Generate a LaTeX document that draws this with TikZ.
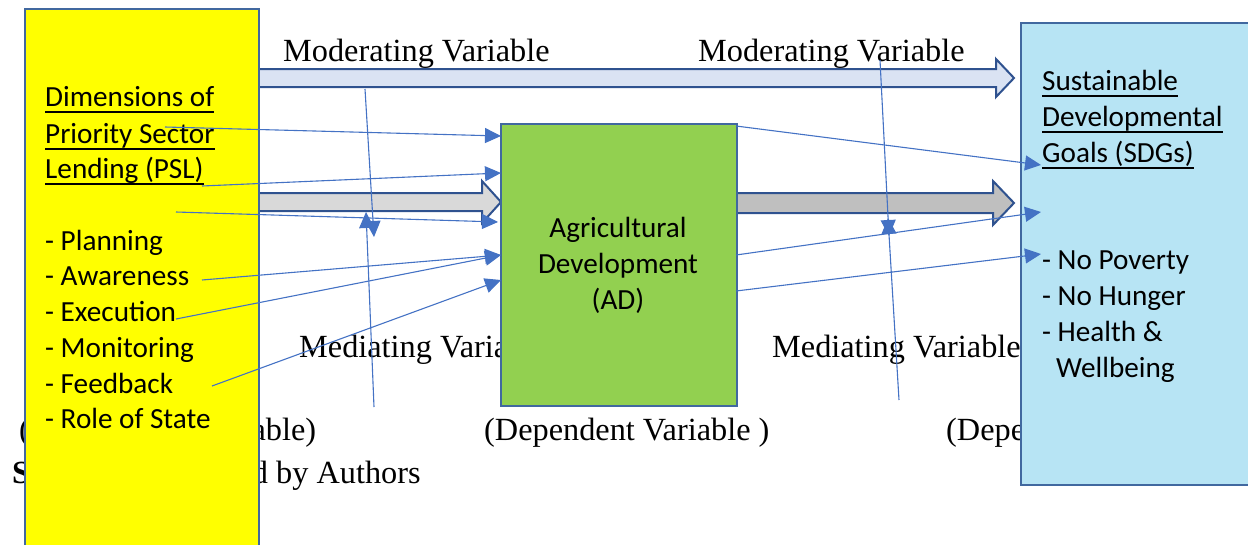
\documentclass[tikz,border=0pt]{standalone}
\usepackage{fontspec}
\setmainfont{Liberation Serif}
\newfontfamily\calib{Carlito}
\usetikzlibrary{arrows.meta}
\definecolor{boxblue}{HTML}{41689F}
\definecolor{arrowblue}{HTML}{2F528F}
\definecolor{connblue}{HTML}{4472C4}
\definecolor{ylw}{HTML}{FFFF00}
\definecolor{grn}{HTML}{92D050}
\definecolor{ltblue}{HTML}{B7E4F4}
\definecolor{lav}{HTML}{DAE3F3}
\definecolor{gryA}{HTML}{D9D9D9}
\definecolor{gryB}{HTML}{BFBFBF}
\begin{document}
\begin{tikzpicture}[x=1pt,y=-1pt,
  serif/.style={font=\fontsize{32.3}{38}\selectfont, inner sep=0, anchor=base west},
  sans/.style={font=\calib\fontsize{29.2}{35.7}\selectfont, inner sep=0, anchor=base west},
  box/.style={draw=boxblue, line width=2pt, anchor=north west, inner sep=0},
  barrow/.style={draw=arrowblue, line width=2pt, line join=miter},
  conn/.style={draw=connblue, line width=1.1pt, -{Triangle[length=16pt,width=15pt]}},
  ulin/.style={line width=1.8pt, black}]
\useasboundingbox (0,0) rectangle (1248,544);
\clip (0,0) rectangle (1248,544);

% background serif labels
\node[serif] (mod1) at (283,61) {Moderating Variable};
\node[serif] (mod2) at (698,61) {Moderating Variable};
\node[serif] (med1) at (299,357) {Mediating Variable};
\node[serif] (med2) at (772,357) {Mediating Variable};
\node[serif] (ind) at (19,440) {(Independent Variable)};
\node[serif] (dep1) at (484,440) {(Dependent Variable )};
\node[serif] (dep2) at (946,440) {(Dependent Variable)};
\node[serif] (src) at (12,483) {\textbf{Source:} Developed by Authors};

% block arrows
\draw[barrow, fill=lav] (258,69) -- (996,69) -- (996,59) -- (1014,78) -- (996,97) -- (996,87) -- (258,87) -- cycle;
\draw[barrow, fill=gryA] (258,193) -- (482,193) -- (482,181) -- (501,202) -- (482,223) -- (482,211) -- (258,211) -- cycle;
\draw[barrow, fill=gryB] (736,193) -- (993,193) -- (993,181) -- (1014,203) -- (993,225) -- (993,213) -- (736,213) -- cycle;

% boxes
\node[box, fill=ylw, minimum width=234, minimum height=560] (psl) at (24,8) {};
\node[box, fill=grn, minimum width=236, minimum height=282] (ad) at (500,123) {};
\node[box, fill=ltblue, minimum width=260, minimum height=462] (sdg) at (1020,22) {};

% yellow box text
\node[sans] (p1) at (45,106) {Dimensions of};
\node[sans] (p2) at (45,143) {Priority Sector};
\node[sans] (p3) at (45,178) {Lending (PSL)};
\foreach \n in {p1,p2,p3}
  \draw[ulin] ([yshift=-6pt]\n.base west) -- ([yshift=-6pt]\n.base east);
\node[sans] (b1) at (45,250) {- Planning};
\node[sans] (b2) at (45,285) {- Awareness};
\node[sans] (b3) at (45,321) {- Execution};
\node[sans] (b4) at (45,357) {- Monitoring};
\node[sans] (b5) at (45,393) {- Feedback};
\node[sans] (b6) at (45,428) {- Role of State};

% green box text
\node[sans, anchor=base] (g1) at (618,237) {Agricultural};
\node[sans, anchor=base] (g2) at (618,273) {Development};
\node[sans, anchor=base] (g3) at (618,309) {(AD)};

% blue box text
\node[sans] (s1) at (1042,90) {Sustainable};
\node[sans] (s2) at (1042,126) {Developmental};
\node[sans] (s3) at (1042,162) {Goals (SDGs)};
\foreach \n in {s1,s2,s3}
  \draw[ulin] ([yshift=-6pt]\n.base west) -- ([yshift=-6pt]\n.base east);
\node[sans] (r1) at (1042,269) {- No Poverty};
\node[sans] (r2) at (1042,305) {- No Hunger};
\node[sans] (r3) at (1042,341) {- Health \&};
\node[sans] (r4) at (1056,377) {Wellbeing};

% connector end points
\coordinate (a1) at (165,127); \coordinate (a2) at (501,136);
\coordinate (b1s) at (202,186); \coordinate (b2s) at (501,173);
\coordinate (c1) at (176,212); \coordinate (c2) at (498,222);
\coordinate (d1) at (202,280); \coordinate (d2) at (501,255);
\coordinate (e1) at (176,319);
\coordinate (f1) at (212,386); \coordinate (f2) at (501,280);
\coordinate (g1s) at (736,126); \coordinate (g2s) at (1041,165);
\coordinate (h1) at (736,255); \coordinate (h2) at (1041,212);
\coordinate (i1) at (736,291); \coordinate (i2) at (1041,254);
\coordinate (v1a) at (365,89); \coordinate (v1b) at (374,237);
\coordinate (v2a) at (374,407); \coordinate (v2b) at (366,212);
\coordinate (v3a) at (880,60); \coordinate (v3b) at (889,236);
\coordinate (v4a) at (899,400); \coordinate (v4b) at (888,218);

\draw[conn] (a1) -- (a2);
\draw[conn] (b1s) -- (b2s);
\draw[conn] (c1) -- (c2);
\draw[conn] (d1) -- (d2);
\draw[conn] (e1) -- (d2);
\draw[conn] (f1) -- (f2);
\draw[conn] (g1s) -- (g2s);
\draw[conn] (h1) -- (h2);
\draw[conn] (i1) -- (i2);
\draw[conn] (v1a) -- (v1b);
\draw[conn] (v2a) -- (v2b);
\draw[conn] (v3a) -- (v3b);
\draw[conn] (v4a) -- (v4b);
\end{tikzpicture}
\end{document}
